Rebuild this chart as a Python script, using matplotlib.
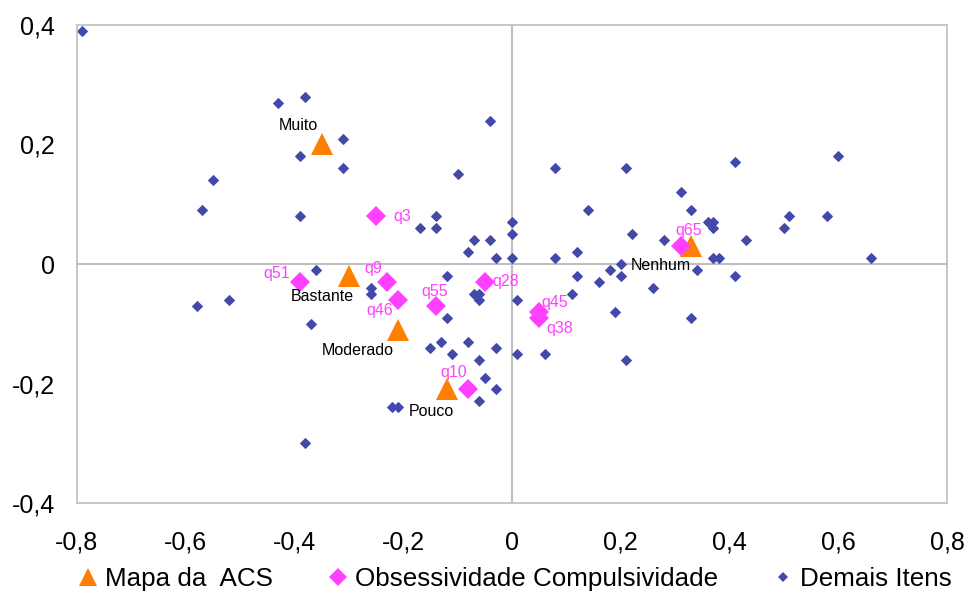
import matplotlib
matplotlib.use("Agg")
import matplotlib.pyplot as plt
from matplotlib.lines import Line2D
from matplotlib.ticker import FuncFormatter

plt.rcParams['font.family'] = ['Liberation Sans', 'DejaVu Sans']

# Mapa da ACS (response categories)
acs_labels = ["Muito", "Bastante", "Moderado", "Pouco", "Nenhum"]
acs_x = [-0.35, -0.30, -0.21, -0.12, 0.33]
acs_y = [0.20, -0.02, -0.11, -0.21, 0.03]

# Obsessividade Compulsividade items
oc_labels = ["q3", "q51", "q9", "q46", "q55", "q28", "q10", "q45", "q38", "q65"]
oc_x = [-0.25, -0.39, -0.23, -0.21, -0.14, -0.05, -0.08, 0.05, 0.05, 0.31]
oc_y = [0.08, -0.03, -0.03, -0.06, -0.07, -0.03, -0.21, -0.08, -0.09, 0.03]

# Demais Itens
other_x = [-0.79, -0.43, -0.38, -0.31, -0.39, -0.31, -0.55, -0.57, -0.39, -0.10,
           -0.04, -0.58, -0.52, -0.36, -0.37, -0.38, -0.22, -0.21, -0.14, -0.17,
           -0.14, 0.00, 0.00, -0.07, -0.04, -0.08, -0.03, 0.00, -0.12, -0.26,
           -0.26, -0.07, -0.06, -0.06, 0.01, -0.12, -0.15, -0.13, -0.11, -0.08,
           -0.06, -0.03, 0.01, 0.06, -0.05, -0.03, -0.06, 0.08, 0.21, 0.41,
           0.31, 0.14, 0.33, 0.36, 0.37, 0.37, 0.22, 0.28, 0.43, 0.51,
           0.50, 0.08, 0.12, 0.20, 0.18, 0.20, 0.12, 0.16, 0.11, 0.26,
           0.34, 0.37, 0.38, 0.41, 0.19, 0.33, 0.21, 0.60, 0.58, 0.66]
other_y = [0.39, 0.27, 0.28, 0.21, 0.18, 0.16, 0.14, 0.09, 0.08, 0.15,
           0.24, -0.07, -0.06, -0.01, -0.10, -0.30, -0.24, -0.24, 0.08, 0.06,
           0.06, 0.07, 0.05, 0.04, 0.04, 0.02, 0.01, 0.01, -0.02, -0.04,
           -0.05, -0.05, -0.05, -0.06, -0.06, -0.09, -0.14, -0.13, -0.15, -0.13,
           -0.16, -0.14, -0.15, -0.15, -0.19, -0.21, -0.23, 0.16, 0.16, 0.17,
           0.12, 0.09, 0.09, 0.07, 0.07, 0.06, 0.05, 0.04, 0.04, 0.08,
           0.06, 0.01, 0.02, 0.00, -0.01, -0.02, -0.02, -0.03, -0.05, -0.04,
           -0.01, 0.01, 0.01, -0.02, -0.08, -0.09, -0.16, 0.18, 0.08, 0.01]

x_ticks = [-0.8, -0.6, -0.4, -0.2, 0, 0.2, 0.4, 0.6, 0.8]
y_ticks = [-0.4, -0.2, 0, 0.2, 0.4]

# label offsets in points
acs_offsets = [(-17, 14), (-19, -15), (-29, -15), (-11, -16), (-22, -14)]
oc_offsets = [(19, 0), (-17, 6), (-10, 10), (-13, -8), (-1, 10),
              (15, 0), (-11, 12), (11, 7), (15, -8), (6, 11)]

BLUE = "#4349A9"
MAGENTA = "#FF40FF"
ORANGE = "#FF7F00"
GRAY = "#BFBFBF"


def comma_fmt(v, pos):
    if abs(v) < 1e-9:
        return "0"
    return ("%g" % round(v, 1)).replace(".", ",")


fig = plt.figure(figsize=(9.66, 5.92), dpi=100)
ax = fig.add_axes([0.0797, 0.1503, 0.9006, 0.8075])

ax.axhline(0, color=GRAY, lw=1.5, zorder=1)
ax.axvline(0, color=GRAY, lw=1.5, zorder=1)

ax.plot(other_x, other_y, 'D', color=BLUE, ms=5.4, mew=0.7, mec=BLUE, zorder=2)
ax.plot(acs_x, acs_y, '^', color=ORANGE, ms=16, mew=0, zorder=3)
ax.plot(oc_x, oc_y, 'D', color=MAGENTA, ms=10, mew=0, zorder=4)

for lab, x, y, off in zip(acs_labels, acs_x, acs_y, acs_offsets):
    ax.annotate(lab, (x, y), xytext=off, textcoords='offset points',
                ha='center', va='center', fontsize=11.5, color='black', zorder=5)
for lab, x, y, off in zip(oc_labels, oc_x, oc_y, oc_offsets):
    ax.annotate(lab, (x, y), xytext=off, textcoords='offset points',
                ha='center', va='center', fontsize=11.5, color=MAGENTA, zorder=5)

ax.set_xlim(-0.8, 0.8)
ax.set_ylim(-0.4, 0.4)
ax.set_xticks(x_ticks)
ax.set_yticks(y_ticks)
ax.xaxis.set_major_formatter(FuncFormatter(comma_fmt))
ax.yaxis.set_major_formatter(FuncFormatter(comma_fmt))
ax.tick_params(axis='both', length=0, labelsize=18)
ax.tick_params(axis='x', pad=20)
ax.tick_params(axis='y', pad=16)
for s in ax.spines.values():
    s.set_color(GRAY)
    s.set_linewidth(1.2)

handles = [
    Line2D([], [], ls='none', marker='^', color=ORANGE, ms=13, mew=0),
    Line2D([], [], ls='none', marker='D', color=MAGENTA, ms=9, mew=0),
    Line2D([], [], ls='none', marker='D', color=BLUE, ms=5, mew=0),
]
fig.legend(handles, ["Mapa da  ACS", "Obsessividade Compulsividade", "Demais Itens"],
           loc='center', bbox_to_anchor=(0.533, 0.022), ncol=3, frameon=False,
           fontsize=18.7, handlelength=0.8, handletextpad=0.25, columnspacing=2.1,
           borderpad=0, borderaxespad=0)

fig.savefig("out.png", dpi=100)
